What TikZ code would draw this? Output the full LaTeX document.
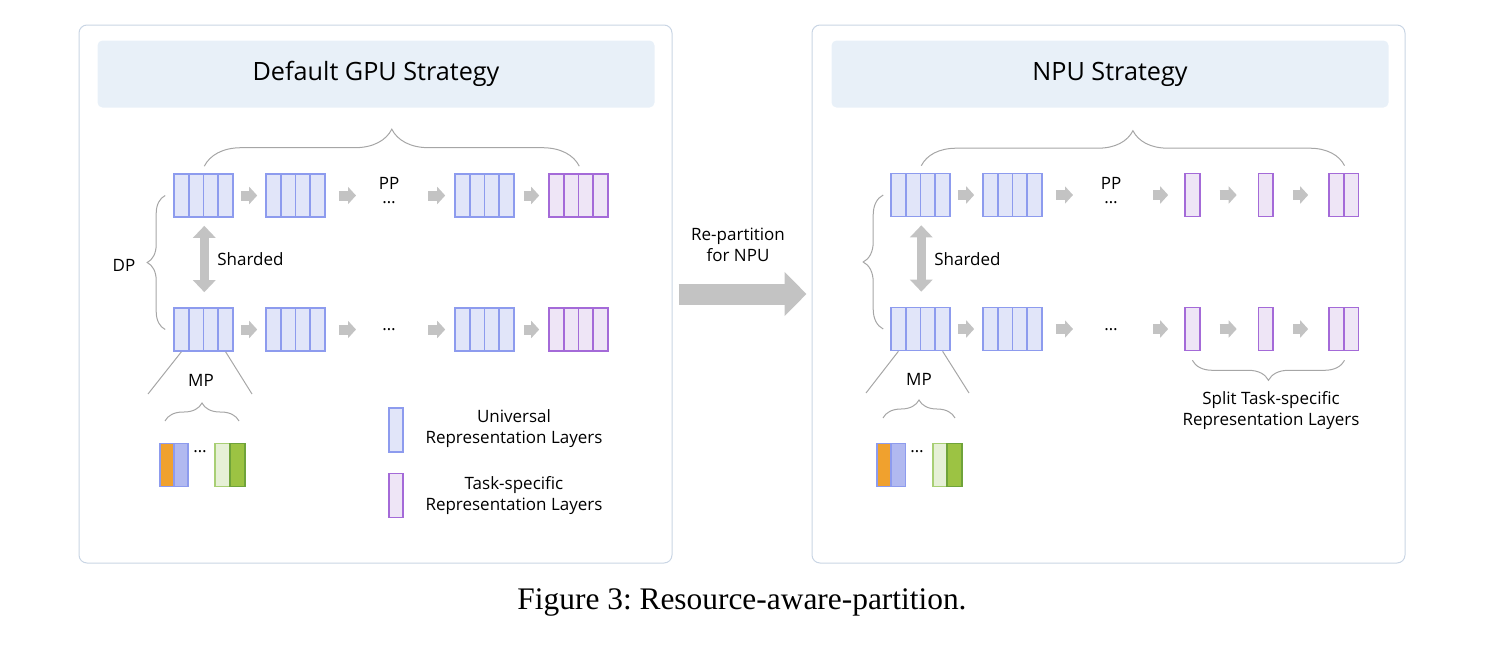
\documentclass[tikz,border=0pt]{standalone}
\usepackage{fontspec}
\setmainfont{Liberation Serif}
\setsansfont{Open Sans}
\usetikzlibrary{arrows.meta,decorations.pathreplacing}

\definecolor{panelline}{HTML}{C9D5E4}
\definecolor{headfill}{HTML}{E8F0F8}
\definecolor{unifill}{HTML}{E1E5F9}
\definecolor{uniline}{HTML}{8D9BEE}
\definecolor{taskfill}{HTML}{EEE5F6}
\definecolor{taskline}{HTML}{A46AD8}
\definecolor{arrowgray}{HTML}{C3C3C3}
\definecolor{bracegray}{HTML}{A6A6A6}
\definecolor{mporange}{HTML}{F0A12E}
\definecolor{mpblue}{HTML}{B1B9F0}
\definecolor{mplightgreen}{HTML}{E6F0D6}
\definecolor{mpgreen}{HTML}{9CC343}
\definecolor{greenline}{HTML}{6FA33A}
\definecolor{lightgreenline}{HTML}{A8CF74}

\tikzset{
  panel/.style={draw=panelline, line width=0.5pt, rounded corners=4pt,
    minimum width=296.5pt, minimum height=269pt},
  header/.style={fill=headfill, rounded corners=2.5pt, minimum width=278.5pt,
    minimum height=33.5pt, font=\sffamily\fontsize{12.6}{14}\selectfont},
  lbl/.style={font=\sffamily\fontsize{8.5}{10.5}\selectfont, inner sep=0pt},
  unicell/.style={draw=uniline, fill=unifill, line width=0.8pt, inner sep=0pt,
    minimum width=7.375pt, minimum height=21.5pt},
  taskcell/.style={unicell, draw=taskline, fill=taskfill},
  keycell/.style={minimum width=7pt, minimum height=22pt},
  flow/.style={draw=arrowgray, line width=5pt, -{Triangle[length=4pt,width=8.5pt]}},
  shard/.style={draw=arrowgray, line width=4.5pt,
    {Triangle[length=6pt,width=11pt]}-{Triangle[length=6pt,width=11pt]}},
  bigflow/.style={draw=arrowgray, line width=10.5pt, -{Triangle[length=11pt,width=21.5pt]}},
  brace/.style={draw=bracegray, line width=0.5pt, decorate,
    decoration={brace, amplitude=#1}},
  mpline/.style={draw=bracegray, line width=0.5pt}
}

% a row of #4 cells, named #1-1 ... #1-#4, left edge #2, centre height #3
\newcommand{\layerrow}[5]{%
  \foreach \i in {1,...,#4}
    \node[#5] (#1-\i) at ({#2+7.375+(\i-1)*14.75},#3) {};
}

\begin{document}
\begin{tikzpicture}[x=0.5pt,y=-0.5pt]
  \useasboundingbox (0,0) rectangle (1512,654);

  % the two panels and their titles
  \node[panel] (gpu) at (375.5,294) {};
  \node[panel] (npu) at (1108.5,294) {};
  \node[header] (gpuhead) at (376,74) {Default GPU Strategy};
  \node[header] (npuhead) at (1110,74) {NPU Strategy};

  % left panel: layer rows
  \layerrow{ga1}{174}{195.5}{4}{unicell}
  \layerrow{ga2}{266}{195.5}{4}{unicell}
  \layerrow{ga3}{455}{195.5}{4}{unicell}
  \layerrow{ga4}{549}{195.5}{4}{taskcell}
  \layerrow{gb1}{174}{329.5}{4}{unicell}
  \layerrow{gb2}{266}{329.5}{4}{unicell}
  \layerrow{gb3}{455}{329.5}{4}{unicell}
  \layerrow{gb4}{549}{329.5}{4}{taskcell}
  \node[lbl] (gpp) at (389,183) {PP};
  \node[lbl] (gadots) at (389,203) {…};
  \node[lbl] (gbdots) at (389,330) {…};

  \draw[flow, shorten <=3.5pt, shorten >=4pt] (ga1-4.east) -- (ga2-1.west);
  \draw[flow, shorten <=6.5pt, shorten >=16.5pt] (ga2-4.east) -- (gpp |- ga2-4.east);
  \draw[flow, shorten <=19.5pt, shorten >=4.5pt] (gpp |- ga3-1.west) -- (ga3-1.west);
  \draw[flow, shorten <=4.5pt, shorten >=4.5pt] (ga3-4.east) -- (ga4-1.west);
  \draw[flow, shorten <=3.5pt, shorten >=4pt] (gb1-4.east) -- (gb2-1.west);
  \draw[flow, shorten <=6.5pt, shorten >=16.5pt] (gb2-4.east) -- (gbdots.center |- gb2-4.east);
  \draw[flow, shorten <=19.5pt, shorten >=4.5pt] (gbdots.center |- gb3-1.west) -- (gb3-1.west);
  \draw[flow, shorten <=4.5pt, shorten >=4.5pt] (gb3-4.east) -- (gb4-1.west);

  \draw[shard, shorten <=4pt, shorten >=7.5pt] (ga1-2.south east) -- (gb1-2.north east);
  \node[lbl, anchor=west] (gshard) at (217,259) {Sharded};

  \draw[brace=18.5pt] ([yshift=3.5pt]ga1-2.north east) -- ([yshift=3.5pt]ga4-2.north east);
  \draw[brace=9pt] ([xshift=-4pt]gb1-1.west) -- ([xshift=-4pt]ga1-1.west);
  \node[lbl] (gdp) at (124,265) {DP};

  % left panel: model parallel split
  \coordinate (gmpl) at (148,394);
  \coordinate (gmpr) at (252,394);
  \draw[mpline] (gb1-1.south) -- (gmpl);
  \draw[mpline] (gb1-4.south) -- (gmpr);
  \node[lbl] (gmp) at (201,380) {MP};
  \node[unicell, fill=mporange, minimum width=7pt] (gmp1) at (167,465) {};
  \node[unicell, fill=mpblue, minimum width=7pt] (gmp2) at (181,465) {};
  \node[lbl] (gmpdots) at (200,452) {…};
  \node[unicell, fill=mplightgreen, draw=lightgreenline, minimum width=7.5pt] (gmp3) at (222.5,465) {};
  \node[unicell, fill=mpgreen, draw=greenline, minimum width=7.5pt] (gmp4) at (237.5,465) {};
  \draw[brace=9pt] (165,421) -- (239,421);

  % legend
  \node[unicell, keycell] (keyuni) at (396,430) {};
  \node[lbl, align=center] (keyunitext) at (514,428.5) {Universal\\Representation Layers};
  \node[taskcell, keycell] (keytask) at (396,495.5) {};
  \node[lbl, align=center] (keytasktext) at (514,495.5) {Task-specific\\Representation Layers};

  % repartition arrow
  \draw[bigflow, shorten <=3pt, shorten >=2.5pt] (gpu) -- (npu);
  \node[lbl, align=center] (repart) at (738,244.5) {Re-partition\\for NPU};

  % right panel: layer rows
  \layerrow{na1}{891}{195}{4}{unicell}
  \layerrow{na2}{983}{195}{4}{unicell}
  \layerrow{na3}{1185}{195}{1}{taskcell}
  \layerrow{na4}{1258.5}{195}{1}{taskcell}
  \layerrow{na5}{1329}{195}{2}{taskcell}
  \layerrow{nb1}{891}{329}{4}{unicell}
  \layerrow{nb2}{983}{329}{4}{unicell}
  \layerrow{nb3}{1185}{329}{1}{taskcell}
  \layerrow{nb4}{1258.5}{329}{1}{taskcell}
  \layerrow{nb5}{1329}{329}{2}{taskcell}
  \node[lbl] (npp) at (1111,183) {PP};
  \node[lbl] (nadots) at (1111,203) {…};
  \node[lbl] (nbdots) at (1111,330) {…};

  \draw[flow, shorten <=3.5pt, shorten >=4pt] (na1-4.east) -- (na2-1.west);
  \draw[flow, shorten <=6.5pt, shorten >=19pt] (na2-4.east) -- (npp |- na2-4.east);
  \draw[flow, shorten <=21pt, shorten >=8pt] (npp |- na3-1.west) -- (na3-1.west);
  \draw[flow, shorten <=9.5pt, shorten >=10.5pt] (na3-1.east) -- (na4-1.west);
  \draw[flow, shorten <=9.5pt, shorten >=10pt] (na4-1.east) -- (na5-1.west);
  \draw[flow, shorten <=3.5pt, shorten >=4pt] (nb1-4.east) -- (nb2-1.west);
  \draw[flow, shorten <=6.5pt, shorten >=19pt] (nb2-4.east) -- (nbdots.center |- nb2-4.east);
  \draw[flow, shorten <=21pt, shorten >=8pt] (nbdots.center |- nb3-1.west) -- (nb3-1.west);
  \draw[flow, shorten <=9.5pt, shorten >=10.5pt] (nb3-1.east) -- (nb4-1.west);
  \draw[flow, shorten <=9.5pt, shorten >=10pt] (nb4-1.east) -- (nb5-1.west);

  \draw[shard, shorten <=4pt, shorten >=7.5pt] (na1-2.south east) -- (nb1-2.north east);
  \node[lbl, anchor=west] (nshard) at (934,259) {Sharded};

  \draw[brace=17.5pt] ([yshift=3.5pt]na1-2.north east) -- ([yshift=3.5pt]na5-1.north east);
  \draw[brace=10pt] ([xshift=-3.5pt]nb1-1.west) -- ([xshift=-3.5pt]na1-1.west);
  \draw[brace=10pt] ([yshift=-4.5pt]nb5-1.south east) -- ([yshift=-4.5pt]nb3-1.south);
  \node[lbl, align=center] (nsplit) at (1271,410.5) {Split Task-specific\\Representation Layers};

  % right panel: model parallel split
  \coordinate (nmpl) at (866,393);
  \coordinate (nmpr) at (969,393);
  \draw[mpline] (nb1-1.south) -- (nmpl);
  \draw[mpline] (nb1-4.south) -- (nmpr);
  \node[lbl] (nmp) at (919,379) {MP};
  \node[unicell, fill=mporange, minimum width=7pt] (nmp1) at (884,465) {};
  \node[unicell, fill=mpblue, minimum width=7pt] (nmp2) at (898.5,465) {};
  \node[lbl] (nmpdots) at (917,452) {…};
  \node[unicell, fill=mplightgreen, draw=lightgreenline, minimum width=7pt] (nmp3) at (940,465) {};
  \node[unicell, fill=mpgreen, draw=greenline, minimum width=7.5pt] (nmp4) at (954.5,465) {};
  \draw[brace=9pt] (883,418) -- (955,418);

  % caption
  \node[font=\rmfamily\fontsize{15.7}{18}\selectfont] (caption) at (742,602) {\frenchspacing Figure 3: Resource-aware-partition.};
\end{tikzpicture}
\end{document}
